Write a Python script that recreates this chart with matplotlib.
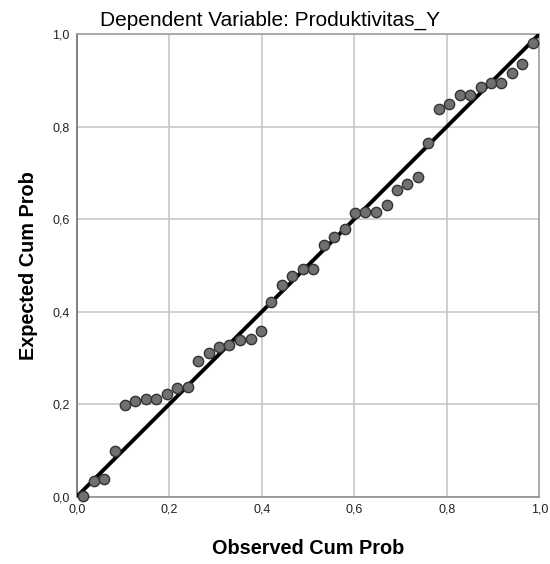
import matplotlib
matplotlib.use("Agg")
import matplotlib.pyplot as plt
from matplotlib.ticker import FuncFormatter

plt.rcParams['font.family'] = ['Liberation Sans', 'DejaVu Sans']

title = "Dependent Variable: Produktivitas_Y"
x_label = "Observed Cum Prob"
y_label = "Expected Cum Prob"

observed = [0.014, 0.037, 0.059, 0.082, 0.104, 0.127, 0.150, 0.172, 0.195, 0.217,
            0.240, 0.263, 0.285, 0.308, 0.330, 0.353, 0.376, 0.398, 0.421, 0.444,
            0.466, 0.489, 0.511, 0.534, 0.556, 0.579, 0.602, 0.624, 0.647, 0.670,
            0.692, 0.715, 0.737, 0.760, 0.783, 0.805, 0.828, 0.850, 0.873, 0.896,
            0.918, 0.941, 0.963, 0.986]
expected = [0.002, 0.035, 0.038, 0.099, 0.199, 0.208, 0.211, 0.212, 0.223, 0.234,
            0.237, 0.294, 0.310, 0.323, 0.327, 0.339, 0.341, 0.358, 0.422, 0.458,
            0.477, 0.492, 0.492, 0.544, 0.562, 0.579, 0.613, 0.615, 0.616, 0.630,
            0.664, 0.677, 0.692, 0.765, 0.839, 0.848, 0.869, 0.869, 0.886, 0.894,
            0.895, 0.915, 0.935, 0.980]
ticks = [0.0, 0.2, 0.4, 0.6, 0.8, 1.0]

fig = plt.figure(figsize=(5.5, 5.64), dpi=100)
ax = fig.add_axes([0.1395, 0.1193, 0.841, 0.8201])
ax.set_xlim(0, 1)
ax.set_ylim(0, 1)
ax.set_xticks(ticks)
ax.set_yticks(ticks)
fmt = FuncFormatter(lambda v, p: f"{v:.1f}".replace(".", ","))
ax.xaxis.set_major_formatter(fmt)
ax.yaxis.set_major_formatter(fmt)
ax.tick_params(length=0, labelsize=9, colors='#222222', pad=5)
ax.grid(True, color='#c8c8c8', linewidth=1.2)
ax.set_axisbelow(True)
for s in ax.spines.values():
    s.set_color('#a0a0a0')
    s.set_linewidth(1.2)
ax.spines['left'].set_color('#707070')
ax.spines['bottom'].set_color('#909090')

ax.plot([0, 1], [0, 1], color='black', linewidth=2.8, zorder=3, solid_capstyle='butt')
ax.scatter(observed, expected, s=55, facecolor='#707070', edgecolor='#333333',
           linewidth=1.0, zorder=4, clip_on=False)

fig.text(0.491, 0.963, title, ha='center', va='center', fontsize=15)
fig.text(0.56, 0.027, x_label, ha='center', va='center', fontsize=14.3, fontweight='bold')
fig.text(0.052, 0.529, y_label, ha='center', va='center', fontsize=14.3,
         fontweight='bold', rotation=90)

fig.savefig("out.png", dpi=100)
